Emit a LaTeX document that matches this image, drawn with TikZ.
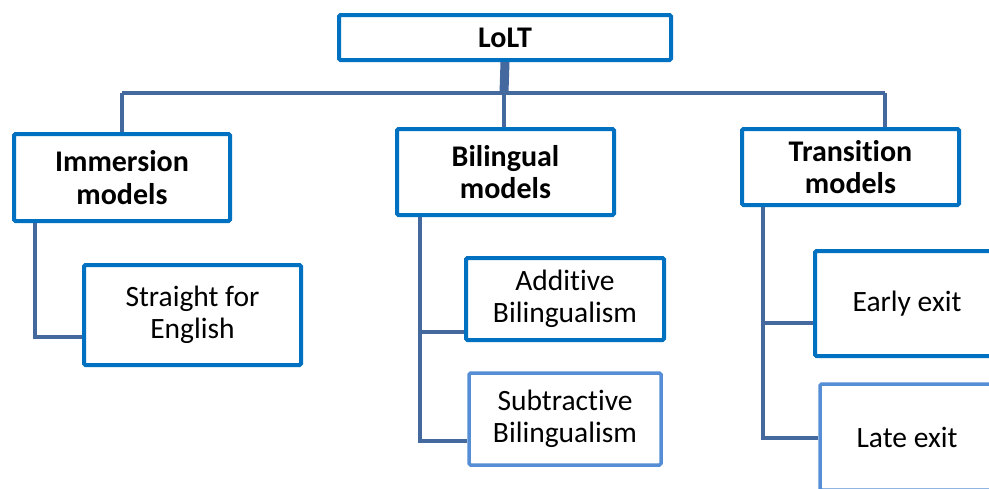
\documentclass[tikz,border=0pt]{standalone}
\usepackage{fontspec}
\setmainfont{Carlito}[Ligatures=NoCommon]
\newcommand\nolig{\kern0pt{}}
\definecolor{boxblue}{HTML}{0070C0}
\definecolor{boxlight}{HTML}{558ED5}
\definecolor{linkblue}{HTML}{44699E}
\begin{document}
\begin{tikzpicture}[x=1pt,y=1pt,
  bx/.style={draw=boxblue,line width=4pt,rounded corners=1.5pt,fill=white,
    inner sep=0pt,align=center,text=black},
  bxlight/.style={bx,draw=boxlight,line width=3.5pt},
  head/.style={font=\fontsize{30}{32.5}\selectfont\bfseries},
  leaf/.style={font=\fontsize{29.5}{32}\selectfont},
  link/.style={draw=linkblue,line width=4pt},
  trunk/.style={draw=linkblue,line width=9pt}]
\useasboundingbox (0,0) rectangle (989,-488);
\clip (0,0) rectangle (989,-488);

% bus line between the top box and the second row
\coordinate (bus) at (504,-93);
\coordinate (busL) at (122,-93);
\coordinate (busR) at (885,-93);

% top level
\node[bx,head,minimum width=332,minimum height=45] (lolt) at (505,-37.5) {LoLT};

% second level
\node[bx,head,minimum width=216,minimum height=87] (imm) at (122,-177.5) {Immersion\\models};
\node[bx,head,minimum width=217,minimum height=86] (bil) at (505.5,-172) {Bilingual\\models};
\node[bx,head,minimum width=217,minimum height=76] (tra) at (850.5,-167) {Transit\nolig ion\\models};

% third level
\node[bx,leaf,minimum width=217,minimum height=100] (sfe) at (192.5,-315) {Straight for\\English};
\node[bx,leaf,minimum width=198,minimum height=82] (add) at (565,-299) {Addit\nolig ive\\Bilingualism};
\node[bxlight,leaf,minimum width=192,minimum height=92] (sub) at (565,-419) {Subtract\nolig ive\\Bilingualism};
\node[bx,leaf,minimum width=184,minimum height=105] (ear) at (907,-303.5) {Early exit};
\node[bxlight,leaf,minimum width=174,minimum height=106] (lat) at (907,-437) {Late exit};

% links
\draw[trunk] (lolt.south) -- (bus);
\draw[link] (busL) -- (busR);
\draw[link] (busL) -- (imm.north);
\draw[link] (bus) -- (bil.north -| bus);
\draw[link] (busR) -- (tra.north -| busR);

\draw[link] ([xshift=23pt]imm.south west) |- ([yshift=-22pt]sfe.west);
\draw[link] ([xshift=25pt]bil.south west) |- ([yshift=-33pt]add.west);
\draw[link] ([xshift=25pt]bil.south west) |- ([yshift=-22pt]sub.west);
\draw[link] ([xshift=23pt]tra.south west) |- ([yshift=-19.5pt]ear.west);
\draw[link] ([xshift=23pt]tra.south west) |- ([yshift=-1pt]lat.west);
\end{tikzpicture}
\end{document}
